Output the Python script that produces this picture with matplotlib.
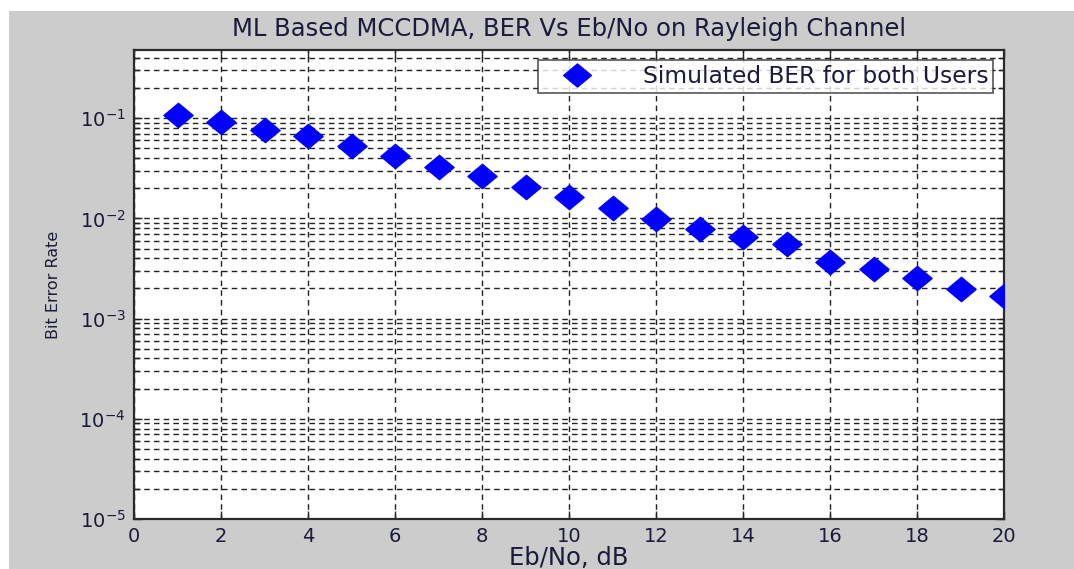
import numpy as np
import matplotlib
matplotlib.use("Agg")
import matplotlib.pyplot as plt
from matplotlib.patches import Rectangle
from matplotlib.path import Path

# Eb/No (dB) and simulated BER
ebno_db = [1, 2, 3, 4, 5, 6, 7, 8, 9, 10, 11, 12, 13, 14, 15, 16, 17, 18, 19, 20]
ber = [0.109, 0.092, 0.077, 0.066, 0.053, 0.042, 0.0329, 0.0263, 0.0206, 0.0163,
       0.0126, 0.0098, 0.0079, 0.0066, 0.0056, 0.0037, 0.0031, 0.00253, 0.00196, 0.00169]
x_ticks = list(range(0, 21, 2))

plt.rcParams['font.family'] = ['DejaVu Sans']

fig = plt.figure(figsize=(10.74, 5.69), dpi=100, facecolor='white')
# matlab-style grey figure area
fig.patches.append(Rectangle((9 / 1074, 0), 1, 1 - 11 / 569, transform=fig.transFigure,
                             facecolor='#cccccc', edgecolor='none', zorder=-10))

ax = fig.add_axes([134 / 1074, 1 - 519 / 569, 870 / 1074, 469 / 569])
ax.set_facecolor('white')

# wide diamond marker (the picture is stretched sideways)
diamond = Path([(-1.2, 0), (0, 1), (1.2, 0), (0, -1), (-1.2, 0)],
               [Path.MOVETO, Path.LINETO, Path.LINETO, Path.LINETO, Path.CLOSEPOLY])
ax.semilogy(ebno_db, ber, linestyle='none', marker=diamond, markersize=21,
            color='#0000ff', markeredgecolor='#0000ff', label='Simulated BER for both Users',
            zorder=3)

ax.set_xlim(0, 20)
ax.set_ylim(1e-5, 0.48)
ax.set_xticks(x_ticks)

ax.grid(True, which='major', axis='x', color='#222222', linestyle=(0, (4, 3)), linewidth=1)
ax.grid(True, which='both', axis='y', color='#222222', linestyle=(0, (4, 3)), linewidth=1)

ax.tick_params(which='both', direction='in', top=True, right=True, labelsize=14,
               colors='#222222', labelcolor='#1a1a3a')
ax.tick_params(which='major', length=6, width=1)
ax.tick_params(which='minor', length=4, width=1)
ax.tick_params(axis='x', pad=6)
ax.tick_params(axis='y', pad=6)
for s in ax.spines.values():
    s.set_linewidth(1.6)
    s.set_color('#2a2a2a')

ax.set_title('ML Based MCCDMA, BER Vs Eb/No on Rayleigh Channel', fontsize=17.5,
             color='#1a1a3a', pad=10)
ax.set_xlabel('Eb/No, dB', fontsize=17.5, color='#1a1a3a', labelpad=0)
ax.set_ylabel('Bit Error Rate', fontsize=11.5, color='#1a1a3a', labelpad=13)

leg = ax.legend(loc='upper right', fontsize=16.8, frameon=True, fancybox=False,
                borderaxespad=0.45, handlelength=2.9, handletextpad=1.4, markerscale=0.95,
                borderpad=0.2)
leg.get_frame().set_edgecolor('#2a2a2a')
leg.get_frame().set_linewidth(1.2)
for t in leg.get_texts():
    t.set_color('#1a1a3a')

fig.savefig('out.png', dpi=100, facecolor=fig.get_facecolor())
